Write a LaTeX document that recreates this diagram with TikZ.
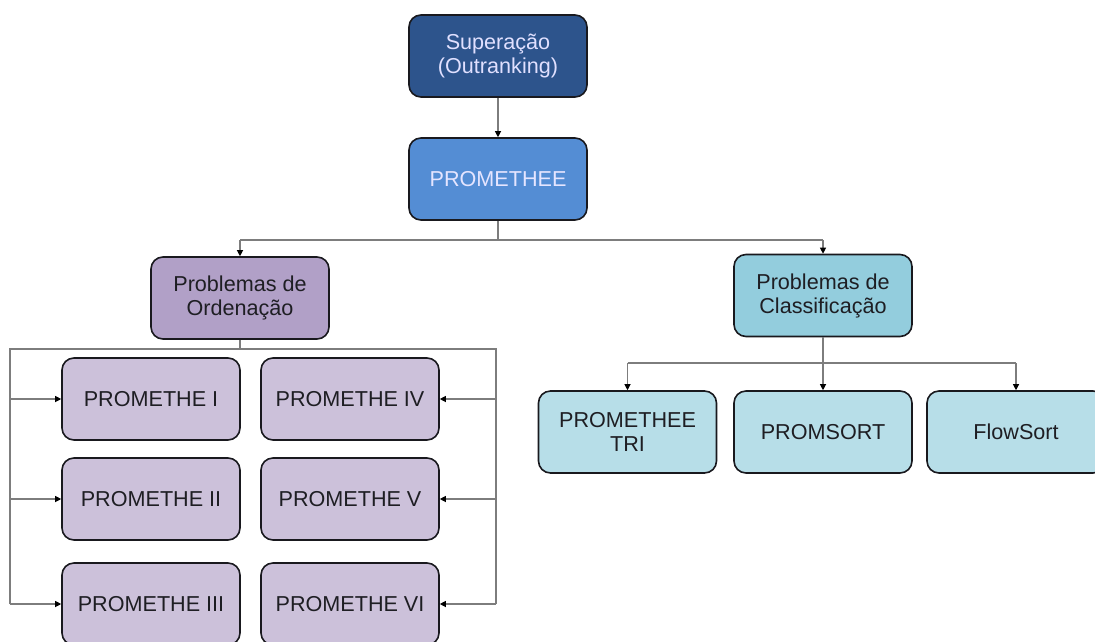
\documentclass[tikz,border=0pt]{standalone}
\usepackage{fontspec}
\setmainfont{Liberation Sans}
\usetikzlibrary{arrows.meta}
\definecolor{supblue}{RGB}{45,84,140}
\definecolor{promblue}{RGB}{84,141,212}
\definecolor{ordpurple}{RGB}{177,160,199}
\definecolor{lilac}{RGB}{204,193,218}
\definecolor{clsteal}{RGB}{147,205,221}
\definecolor{paleteal}{RGB}{183,222,232}
\definecolor{linkgray}{RGB}{125,125,125}
\definecolor{edge}{RGB}{25,25,30}
\definecolor{darktext}{RGB}{30,30,35}
\tikzset{
  box/.style={draw=edge, line width=1.6pt, rounded corners=12pt,
    minimum width=178pt, minimum height=82pt, align=center,
    font=\fontsize{21.6}{24}\selectfont, inner sep=2pt},
  topbox/.style={box, fill=supblue, text=white!88!blue},
  mainbox/.style={box, fill=promblue, text=white!90!blue},
  ordbox/.style={box, fill=ordpurple, text=darktext},
  methbox/.style={box, fill=lilac, text=darktext},
  clsbox/.style={box, fill=clsteal, text=darktext},
  sortbox/.style={box, fill=paleteal, text=darktext},
  link/.style={draw=linkgray, line width=1.1pt},
  arr/.style={link, -{Triangle[color=black,width=6pt,length=6pt]}}
}
\begin{document}
\begin{tikzpicture}[x=1pt,y=-1pt]
\useasboundingbox (0,0) rectangle (1095,641);
\clip (0,0) rectangle (1095,641);
\fill[white] (0,0) rectangle (1095,641);

% top of the hierarchy
\node[topbox]  (sup)  at (498,56)  {Superação\\(Outranking)};
\node[mainbox] (prom) at (498,179) {PROMETHEE};

% two families of problems
\node[ordbox] (ord) at (240,298)   {Problemas de\\Ordenação};
\node[clsbox] (cls) at (823,295.5) {Problemas de\\Classificação};

% ranking methods
\node[methbox] (p1) at (151,399) {PROMETHE I};
\node[methbox] (p2) at (151,499) {PROMETHE II};
\node[methbox] (p3) at (151,604) {PROMETHE III};
\node[methbox] (p4) at (350,399) {PROMETHE IV};
\node[methbox] (p5) at (350,499) {PROMETHE V};
\node[methbox] (p6) at (350,604) {PROMETHE VI};

% sorting methods
\node[sortbox] (tri) at (627.5,432) {PROMETHEE\\TRI};
\node[sortbox] (pms) at (823,432)   {PROMSORT};
\node[sortbox] (flw) at (1016,432)  {FlowSort};

% junction points of the connectors
\coordinate (jA) at (498,240);
\coordinate (jL) at (240,240);
\coordinate (jR) at (823,240);
\coordinate (jO) at (240,349);
\coordinate (oL) at (10,349);
\coordinate (oR) at (496,349);
\coordinate (jC) at (823,363);
\coordinate (cL) at (627.5,363);
\coordinate (cR) at (1016,363);

% connectors
\draw[arr] (sup.south) -- (prom.north);
\draw[link] (prom.south) -- (jA);
\draw[link] (jL) -- (jR);
\draw[arr] (jL) -- (ord.north);
\draw[arr] (jR) -- (cls.north);

\draw[link] (ord.south) -- (jO);
\draw[link] (oL |- p3.west) -- (oL) -- (oR) -- (oR |- p6.east);
\foreach \n in {p1,p2,p3} \draw[arr] (oL |- \n.west) -- (\n.west);
\foreach \n in {p4,p5,p6} \draw[arr] (oR |- \n.east) -- (\n.east);

\draw[link] (cls.south) -- (jC);
\draw[link] (cL) -- (cR);
\draw[arr] (cL) -- (tri.north);
\draw[arr] (jC) -- (pms.north);
\draw[arr] (cR) -- (flw.north);
\end{tikzpicture}
\end{document}
